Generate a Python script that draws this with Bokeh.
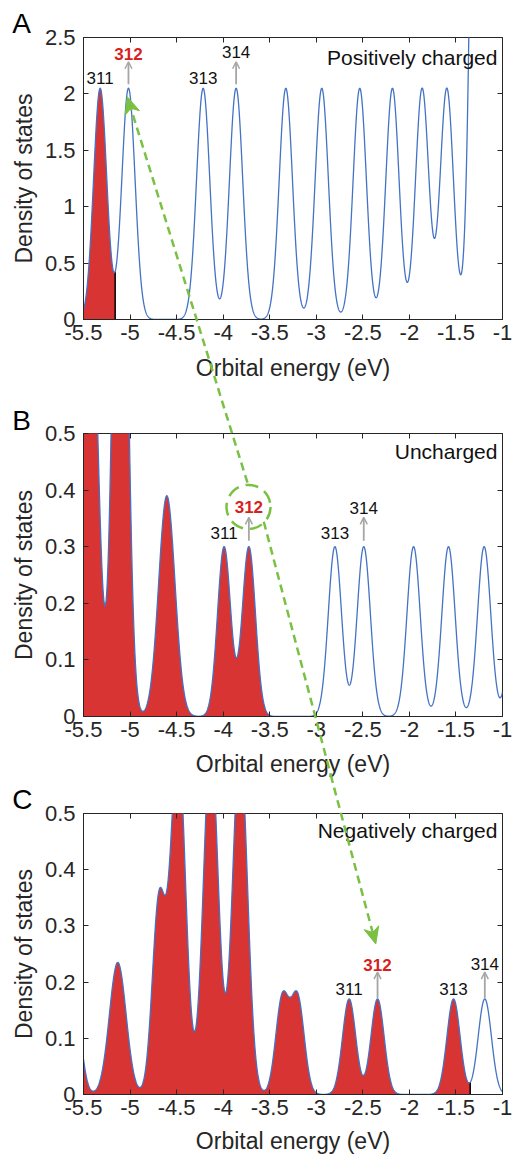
import numpy as np
from bokeh.plotting import figure
from bokeh.models import (Range1d, FixedTicker, LinearAxis, Arrow, OpenHead,
                          ColumnDataSource)
from bokeh.layouts import column
from bokeh.core.properties import value
from bokeh.embed import file_html
from bokeh.resources import INLINE

# ---------------------------------------------------------------- data
x_ticks = [-5.5, -5.0, -4.5, -4.0, -3.5, -3.0, -2.5, -2.0, -1.5, -1.0]
x_tick_labels = ["-5.5", "-5", "-4.5", "-4", "-3.5", "-3", "-2.5", "-2", "-1.5", "-1"]
y_ticks_A = [0.0, 0.5, 1.0, 1.5, 2.0, 2.5]
y_tick_labels_A = ["0", "0.5", "1", "1.5", "2", "2.5"]
y_ticks_BC = [0.0, 0.1, 0.2, 0.3, 0.4, 0.5]
y_tick_labels_BC = ["0", "0.1", "0.2", "0.3", "0.4", "0.5"]

panel_letters = ["A", "B", "C"]
panel_titles = ["Positively charged", "Uncharged", "Negatively charged"]
orbital_numbers = ["311", "312", "313", "314"]

# Panel A (positively charged): DOS peaks (eV), heights, broadening widths
peak_energy_A = [-5.321, -5.017, -4.215, -3.861, -3.327, -2.941, -2.533, -2.182,
                 -1.863, -1.598, -1.25, -1.10, -0.95]
peak_height_A = [2.05, 2.05, 2.05, 2.05, 2.05, 2.05, 2.05, 2.05, 2.05, 2.05, 8.6, 8.0, 8.0]
peak_width_A = [0.071, 0.071, 0.071, 0.071, 0.071, 0.071, 0.071, 0.071, 0.071, 0.071,
                0.071, 0.071, 0.071]
occupied_up_to_A = -5.16
orbital_energy_A = [-5.321, -5.017, -4.215, -3.861]

# Panel B (uncharged)
peak_energy_B = [-5.55, -5.406, -5.105, -4.605, -3.99, -3.724, -2.80, -2.49, -1.955,
                 -1.58, -1.197, -0.855]
peak_height_B = [1.0, 0.68, 1.29, 0.39, 0.30, 0.30, 0.30, 0.30, 0.30, 0.30, 0.30, 0.30]
peak_width_B = [0.071, 0.071, 0.071, 0.088, 0.071, 0.071, 0.071, 0.071, 0.071, 0.071,
                0.071, 0.071]
occupied_up_to_B = -3.50
orbital_energy_B = [-3.99, -3.724, -2.80, -2.49]

# Panel C (negatively charged)
peak_energy_C = [-5.60, -5.132, -4.69, -4.484, -4.133, -3.819, -3.365, -3.20, -2.647,
                 -2.342, -1.526, -1.19]
peak_height_C = [0.17, 0.235, 0.34, 0.62, 0.62, 0.62, 0.17, 0.17, 0.17, 0.17, 0.17, 0.17]
peak_width_C = [0.071, 0.09, 0.071, 0.08, 0.08, 0.08, 0.071, 0.071, 0.071, 0.071,
                0.071, 0.071]
occupied_up_to_C = -1.347
orbital_energy_C = [-2.647, -2.342, -1.526, -1.19]

# ---------------------------------------------------------------- style / layout
FONT = "Liberation Sans"
AX = "#262626"
RED_FILL = "#D83434"
BLUE = "#4472C4"
GREEN = "#7AC143"
GRAY = "#A6A6A6"
RED_TXT = "#D71F1F"
TXT = "#111111"

FIG_W = 514
BORDER_L, BORDER_R = 83, 12
FRAME_W = FIG_W - BORDER_L - BORDER_R
X0, X1 = -5.5, -1.0

panels = [
    dict(name="A", ymax=2.5, yt=y_ticks_A, ytl=y_tick_labels_A,
         e=peak_energy_A, h=peak_height_A, w=peak_width_A, occ=occupied_up_to_A,
         orb=orbital_energy_A, top=37, fh=282, bottom=73, xlab_standoff=12,
         lab_y=[2.144, 2.354, 2.144, 2.372], arr=(2.086, 2.285),
         title_y=2.324, letter_y=2.624),
    dict(name="B", ymax=0.5, yt=y_ticks_BC, ytl=y_tick_labels_BC,
         e=peak_energy_B, h=peak_height_B, w=peak_width_B, occ=occupied_up_to_B,
         orb=orbital_energy_B, top=41, fh=283, bottom=63, xlab_standoff=11,
         lab_y=[0.3239, 0.3694, 0.3239, 0.3685], arr=(0.3106, 0.3517),
         title_y=0.4689, letter_y=0.5238),
    dict(name="C", ymax=0.5, yt=y_ticks_BC, ytl=y_tick_labels_BC,
         e=peak_energy_C, h=peak_height_C, w=peak_width_C, occ=occupied_up_to_C,
         orb=orbital_energy_C, top=34, fh=283, bottom=60, xlab_standoff=10,
         lab_y=[0.1874, 0.2308, 0.1874, 0.2315], arr=(0.1719, 0.2177),
         title_y=0.4701, letter_y=0.525),
]

# page geometry of each frame (page origin at the top of the first figure)
y0 = 0
for pc in panels:
    pc["frame_top"] = y0 + pc["top"]
    pc["frame_bottom"] = pc["frame_top"] + pc["fh"]
    pc["height"] = pc["top"] + pc["fh"] + pc["bottom"]
    y0 += pc["height"]
P = {pc["name"]: pc for pc in panels}


def to_page(name, x, y):
    pc = P[name]
    return (BORDER_L + (x - X0) / (X1 - X0) * FRAME_W,
            pc["frame_bottom"] - y / pc["ymax"] * pc["fh"])


def from_page(name, px, py):
    pc = P[name]
    return (X0 + (px - BORDER_L) / FRAME_W * (X1 - X0),
            (pc["frame_bottom"] - py) / pc["fh"] * pc["ymax"])


def dos(x, e, h, w):
    x = np.asarray(x, dtype=float)
    out = np.zeros_like(x)
    for c, hh, ww in zip(e, h, w):
        out += hh * np.exp(-(x - c) ** 2 / (2 * ww ** 2))
    return out


# green dashed links: (panel, energy, dos) start -> (panel, energy, dos) tip
green_links = [
    (("B", -3.739, 0.413), ("A", -5.03, 1.975), ["A", "B"]),
    (("B", -3.564, 0.344), ("C", -2.361, 0.2677), ["B", "C"]),
]
highlight_circle = ("B", -3.728, 0.3703)

xs = np.linspace(X0, X1, 2251)
figs = []
for i, pc in enumerate(panels):
    p = figure(width=FIG_W, height=pc["height"], x_range=Range1d(X0, X1),
               y_range=Range1d(0, pc["ymax"]), output_backend="svg",
               toolbar_location=None, min_border_left=BORDER_L,
               min_border_right=BORDER_R, min_border_top=pc["top"],
               min_border_bottom=pc["bottom"])
    p.xgrid.visible = False
    p.ygrid.visible = False
    p.outline_line_color = AX
    p.outline_line_width = 1
    p.background_fill_color = "white"
    p.border_fill_color = "white"

    # axes
    xa = p.xaxis[0]
    xa.ticker = FixedTicker(ticks=x_ticks)
    xa.major_label_overrides = {float(t): l for t, l in zip(x_ticks, x_tick_labels)}
    ya = p.yaxis[0]
    ya.ticker = FixedTicker(ticks=pc["yt"])
    ya.major_label_overrides = {float(t): l for t, l in zip(pc["yt"], pc["ytl"])}
    xa.axis_label = "Orbital energy (eV)"
    ya.axis_label = "Density of states"
    for ax, so in ((xa, 5), (ya, 8)):
        ax.major_tick_in = 5
        ax.major_tick_out = 0
        ax.minor_tick_line_color = None
        ax.axis_line_color = AX
        ax.major_tick_line_color = AX
        ax.major_label_text_font = FONT
        ax.major_label_text_font_size = "22px"
        ax.major_label_text_color = AX
        ax.major_label_standoff = so
        ax.axis_label_text_font = FONT
        ax.axis_label_text_font_size = "23px"
        ax.axis_label_text_font_style = "normal"
        ax.axis_label_text_color = AX
    xa.axis_label_standoff = pc["xlab_standoff"]
    ya.axis_label_standoff = 5
    top_ax = LinearAxis(ticker=FixedTicker(ticks=x_ticks))
    top_ax.major_label_overrides = {float(t): "" for t in x_ticks}
    right_ax = LinearAxis(ticker=FixedTicker(ticks=pc["yt"]))
    right_ax.major_label_overrides = {float(t): "" for t in pc["yt"]}
    for ax in (top_ax, right_ax):
        ax.major_tick_in = 5
        ax.major_tick_out = 0
        ax.minor_tick_line_color = None
        ax.axis_line_color = None
        ax.major_tick_line_color = AX
        ax.major_label_standoff = 0
    p.add_layout(top_ax, "above")
    p.add_layout(right_ax, "right")

    # density of states
    ys = dos(xs, pc["e"], pc["h"], pc["w"])
    xf = np.append(xs[xs < pc["occ"]], pc["occ"])
    yf = dos(xf, pc["e"], pc["h"], pc["w"])
    p.varea(x=xf, y1=np.zeros_like(xf), y2=yf, fill_color=RED_FILL, fill_alpha=1.0)
    p.segment(x0=[pc["occ"]], y0=[0], x1=[pc["occ"]], y1=[yf[-1]],
              line_color="black", line_width=1.5)
    p.line(xs, ys, line_color=BLUE, line_width=1.3)

    # orbital labels and arrows
    src = ColumnDataSource(dict(
        x=pc["orb"], y=pc["lab_y"], text=orbital_numbers,
        color=[TXT, RED_TXT, TXT, TXT], style=["normal", "bold", "normal", "normal"]))
    p.text(x="x", y="y", text="text", source=src, text_align="center",
           text_baseline="middle", text_font=value(FONT), text_font_size="17px",
           text_color="color", text_font_style="style")
    for k in (1, 3):
        p.add_layout(Arrow(end=OpenHead(size=7, line_color=GRAY, line_width=1.5),
                           x_start=pc["orb"][k], y_start=pc["arr"][0],
                           x_end=pc["orb"][k], y_end=pc["arr"][1],
                           line_color=GRAY, line_width=1.8))

    p.text(x=[-1.054], y=[pc["title_y"]], text=[panel_titles[i]], text_align="right",
           text_baseline="middle", text_font=value(FONT), text_font_size="21px",
           text_color=TXT)
    # panel letter, outside the frame (overlay level is not clipped to the frame)
    p.text(x=[-6.266], y=[pc["letter_y"]], text=[panel_letters[i]], text_align="left",
           text_baseline="middle", text_font=value(FONT), text_font_size="28px",
           text_color="black", level="overlay")
    pc["fig"] = p
    figs.append(p)

# highlight circle around 312 in panel B
cn, cx, cy = highlight_circle
P[cn]["fig"].scatter(x=[cx], y=[cy], marker="circle", size=44, fill_color=None,
                     line_color=GREEN, line_width=2.5, line_dash="13 7")

# green dashed links crossing panels
HEAD_L, HEAD_W, HEAD_NOTCH = 17.0, 7.5, 5.0
for (sn, sx, sy), (en, ex, ey), names in green_links:
    spx, spy = to_page(sn, sx, sy)
    epx, epy = to_page(en, ex, ey)
    d = np.hypot(epx - spx, epy - spy)
    ux, uy = (epx - spx) / d, (epy - spy) / d
    nx_, ny_ = -uy, ux
    bpx, bpy = epx - (HEAD_L - HEAD_NOTCH) * ux, epy - (HEAD_L - HEAD_NOTCH) * uy
    for nm in names:
        a = from_page(nm, spx, spy)
        b = from_page(nm, bpx, bpy)
        P[nm]["fig"].line(x=[a[0], b[0]], y=[a[1], b[1]], line_color=GREEN,
                          line_width=2.5, line_dash="8 5", level="overlay")
    head_px = [epx, epx - HEAD_L * ux + HEAD_W * nx_, bpx, epx - HEAD_L * ux - HEAD_W * nx_]
    head_py = [epy, epy - HEAD_L * uy + HEAD_W * ny_, bpy, epy - HEAD_L * uy - HEAD_W * ny_]
    hx, hy = zip(*[from_page(en, qx, qy) for qx, qy in zip(head_px, head_py)])
    P[en]["fig"].patch(x=list(hx), y=list(hy), fill_color=GREEN, line_color=GREEN,
                       line_width=1, level="overlay")

layout = column(*figs, spacing=0)
open("out.html", "w").write(file_html(layout, INLINE))
